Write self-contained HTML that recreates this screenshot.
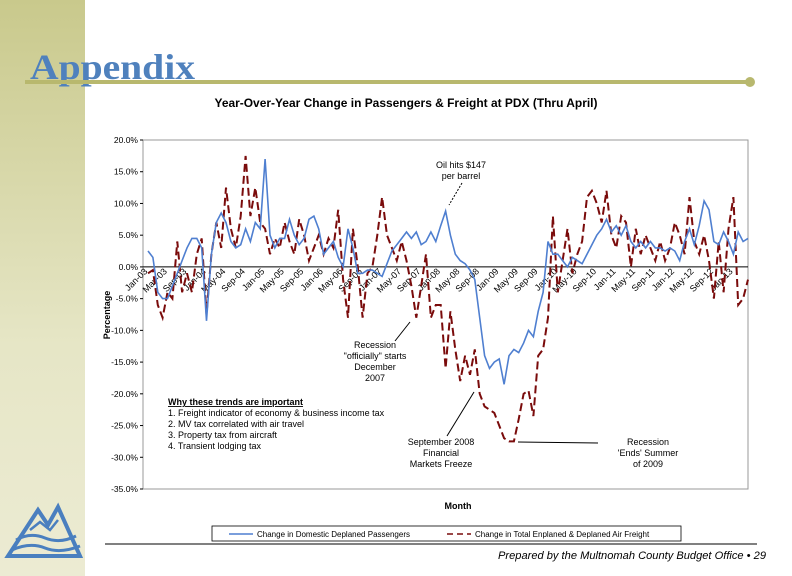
<!DOCTYPE html>
<html><head><meta charset="utf-8">
<style>
body{margin:0;width:792px;height:576px;overflow:hidden;background:#fff;font-family:"Liberation Sans",sans-serif;}
#side{position:absolute;left:0;top:0;width:85px;height:576px;background:linear-gradient(#c9c98c,#e6e6c6 60%,#ecebd3);}
svg{position:absolute;left:0;top:0;}
</style></head>
<body>
<div id="side"></div>
<svg width="792" height="576" id="chart">
  <text x="30" y="79" font-family="Liberation Serif,serif" font-weight="bold" font-size="36" textLength="165" lengthAdjust="spacingAndGlyphs" fill="#4f81bd">Appendix</text>
  <line x1="25" y1="82" x2="749" y2="82" stroke="#b8b86e" stroke-width="4"/>
  <circle cx="750" cy="82" r="5" fill="#b8b86e"/>
  <text x="406" y="107" text-anchor="middle" font-size="11.5" font-weight="bold" textLength="383" lengthAdjust="spacingAndGlyphs">Year-Over-Year Change in Passengers &amp; Freight at PDX (Thru April)</text>
  <rect x="143" y="140" width="605" height="349" fill="none" stroke="#999" stroke-width="1"/>
  <g id="yaxis"></g>
  <g id="xaxis"></g>
  <g id="series"></g>
  <text x="110" y="315" font-size="9" font-weight="bold" transform="rotate(-90 110 315)" text-anchor="middle">Percentage</text>
  <text x="458" y="509" font-size="9" font-weight="bold" text-anchor="middle">Month</text>
  <g font-size="9" text-anchor="middle">
    <text x="461" y="168">Oil hits $147</text>
    <text x="461" y="179">per barrel</text>
    <line x1="462" y1="183" x2="449" y2="205" stroke="#000" stroke-dasharray="2,1.5"/>
    <text x="375" y="348">Recession</text>
    <text x="375" y="359">"officially" starts</text>
    <text x="375" y="370">December</text>
    <text x="375" y="381">2007</text>
    <line x1="395" y1="341" x2="410" y2="322" stroke="#000"/>
    <text x="441" y="445">September 2008</text>
    <text x="441" y="456">Financial</text>
    <text x="441" y="467">Markets Freeze</text>
    <line x1="447" y1="436" x2="474" y2="392" stroke="#000"/>
    <text x="648" y="445">Recession</text>
    <text x="648" y="456">'Ends' Summer</text>
    <text x="648" y="467">of 2009</text>
    <line x1="598" y1="443" x2="518" y2="442" stroke="#000"/>
  </g>
  <g font-size="9">
    <text x="168" y="405" text-decoration="underline" font-weight="bold">Why these trends are important</text>
    <text x="168" y="416">1. Freight indicator of economy &amp; business income tax</text>
    <text x="168" y="427">2. MV tax correlated with air travel</text>
    <text x="168" y="438">3. Property tax from aircraft</text>
    <text x="168" y="449">4. Transient lodging tax</text>
  </g>
  <g>
    <rect x="212" y="526" width="469" height="15" fill="#fff" stroke="#000" stroke-width="0.8"/>
    <line x1="229" y1="534" x2="253" y2="534" stroke="#4f7fd0" stroke-width="1.5"/>
    <text x="257" y="537" font-size="8">Change in Domestic Deplaned Passengers</text>
    <line x1="447" y1="534" x2="471" y2="534" stroke="#7a0b0b" stroke-width="1.5" stroke-dasharray="6,4"/>
    <text x="475" y="537" font-size="8">Change in Total Enplaned &amp; Deplaned Air Freight</text>
  </g>
  <line x1="105" y1="544" x2="757" y2="544" stroke="#000" stroke-width="1"/>
  <text x="766" y="559" font-size="11" font-style="italic" text-anchor="end" textLength="268" lengthAdjust="spacingAndGlyphs">Prepared by the Multnomah County Budget Office • 29</text>
  <g fill="none" stroke="#4a7fbf" stroke-width="4">
    <path d="M8 556 L38 510 L48 525 L58 507 L80 556 Z"/>
    <path d="M16 540 Q30 532 45 538 T76 536" stroke-width="3"/>
    <path d="M12 550 Q30 542 45 548 T80 546" stroke-width="3"/>
    <path d="M30 530 L40 522 L50 530 L58 520" stroke-width="2.5"/>
  </g>
</svg>
<script>
const passengers=[2.5,1.5,-4,-5,-5,-3,-1,1,3,4.5,4.5,3,-8.5,2,7,8.5,7,4,3,3.5,6,4,7,6,17,5,3,4.5,4.5,7.5,5,3.5,4.5,7.5,8,6,2,3,4,1.5,0,6,3,-1,-1,-0.5,-0.5,-1,-1.5,0.5,2.5,3.5,4.5,5.5,4.5,5.5,3.5,4,5.5,4,6.5,8.8,5,2,1,0.5,-0.5,-2,-8,-14,-16,-15,-14.5,-18.5,-14,-13,-13.5,-12,-10,-11,-7,-4,4,2,2,1,0,1.5,1,0.5,2,3.5,5,6,7.5,5.5,6.5,5,6.5,4,3,4,3,4,3,3,2.5,3,2.5,1,4,6,3.5,6.5,10.4,9,4,3.5,5.5,4,2,5.5,4,4.5];
const freight=[-1,-0.5,-6,-8,-4,-5,4,-4,-1,-4,2,4.5,-7.5,2,7,3,12.5,6,3,8,17.5,8,12.5,7,6,2,4.5,3,7,4,2,7.5,5,1,3,5,2,4.5,3,9,-2,-8,6,0,-8,-1,0,5,11,5,3,1,4,1,-3,-8,-3,2,-8,-6,-6,-16,-7,-13,-18,-14,-17,-13,-20,-22,-22.5,-23,-25,-27,-27.5,-27.5,-24,-20,-19.5,-23.5,-14,-13,-8,8,-4,1,6,-1,2,4,11,12,10,7,12,5,3,8,7,0,6,2,5,3,1,4,1,3,7,5,2,11,4,2,5,1,-5,4,-4,6,11,-6,-5,-2];
const yTicks=[20,15,10,5,0,-5,-10,-15,-20,-25,-30,-35];
const monthNames=["Jan","Feb","Mar","Apr","May","Jun","Jul","Aug","Sep","Oct","Nov","Dec"];
const startYear=2003;
const NS="http://www.w3.org/2000/svg";
const x0=148,x1=748,yTop=140,yBot=489,vMax=20,vMin=-35;
function xs(i){return x0+i*(x1-x0)/(passengers.length-1);}
function ys(v){return yTop+(vMax-v)*(yBot-yTop)/(vMax-vMin);}
function mk(tag,attrs,parent){const e=document.createElementNS(NS,tag);for(const k in attrs)e.setAttribute(k,attrs[k]);parent.appendChild(e);return e;}
const ya=document.getElementById('yaxis');
yTicks.forEach(v=>{
  const t=mk('text',{x:138,y:ys(v)+3,'font-size':8.5,'text-anchor':'end'},ya);
  t.textContent=v.toFixed(1)+'%';
  
  
  mk('line',{x1:140,x2:143,y1:ys(v),y2:ys(v),stroke:'#000'},ya);
});
const xa=document.getElementById('xaxis');
const zl=mk('line',{x1:143,x2:748,y1:ys(0),y2:ys(0),stroke:'#000','stroke-width':1},xa);


for(let i=0;i<passengers.length;i+=4){
  const yr=startYear+Math.floor(i/12);
  const lab=monthNames[i%12]+'-'+String(yr%100).padStart(2,'0');
  const x=xs(i),y=ys(0)+5;
  const t=mk('text',{x:x,y:y,'font-size':9,'text-anchor':'end',transform:`rotate(-45 ${x} ${y})`},xa);
  t.textContent=lab;
  
  
}
const sg=document.getElementById('series');
const pf=mk('path',{d:freight.map((v,i)=>(i?'L':'M')+xs(i).toFixed(1)+' '+ys(v).toFixed(1)).join(' '),fill:'none',stroke:'#7a0b0b','stroke-width':2,'stroke-dasharray':'8,4'},sg);


const pp=mk('path',{d:passengers.map((v,i)=>(i?'L':'M')+xs(i).toFixed(1)+' '+ys(v).toFixed(1)).join(' '),fill:'none',stroke:'#4f7fd0','stroke-width':1.6},sg);


</script>
</body></html>
